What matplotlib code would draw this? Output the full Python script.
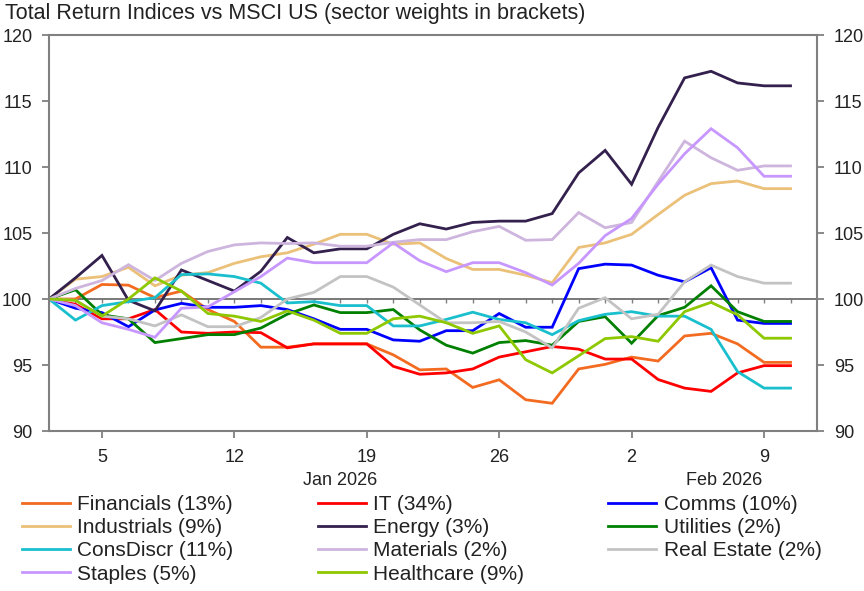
import matplotlib
matplotlib.use("Agg")
import matplotlib.pyplot as plt
import matplotlib.transforms as mtransforms
import numpy as np
import pandas as pd

plt.rcParams['font.family'] = ['Liberation Sans', 'DejaVu Sans']

# weekdays from 1 Jan to 10 Feb 2026
dates = pd.bdate_range("2026-01-01", "2026-02-10")

# total return index, rebased to 100
financials = [100, 100.0, 101.1, 101.05, 100.1, 100.6, 99.2, 98.3, 96.35, 96.35,
              96.6, 96.6, 96.6, 95.77, 94.63, 94.7, 93.3, 93.88, 92.37, 92.1,
              94.7, 95.05, 95.6, 95.3, 97.2, 97.4, 96.6, 95.2, 95.2]
it = [100, 99.6, 98.5, 98.5, 99.2, 97.5, 97.4, 97.5, 97.45, 96.3,
      96.6, 96.6, 96.6, 94.9, 94.3, 94.4, 94.7, 95.6, 96.0, 96.4,
      96.2, 95.45, 95.45, 93.9, 93.25, 93.0, 94.4, 94.95, 94.95]
comms = [100, 99.3, 98.97, 97.9, 99.17, 99.67, 99.37, 99.37, 99.5, 99.2,
         98.5, 97.7, 97.7, 96.9, 96.8, 97.6, 97.6, 98.9, 97.86, 97.86,
         102.3, 102.64, 102.57, 101.8, 101.3, 102.37, 98.4, 98.15, 98.15]
industrials = [100, 101.5, 101.7, 102.4, 101.0, 101.8, 102.0, 102.7, 103.2, 103.5,
               104.15, 104.9, 104.9, 104.15, 104.25, 103.07, 102.24, 102.24, 101.8, 101.23,
               103.9, 104.25, 104.9, 106.4, 107.86, 108.74, 108.94, 108.36, 108.36]
energy = [100, 101.6, 103.3, 99.9, 99.1, 102.2, 101.4, 100.6, 102.1, 104.66,
          103.5, 103.8, 103.8, 104.9, 105.7, 105.3, 105.8, 105.9, 105.9, 106.47,
          109.55, 111.26, 108.69, 113.0, 116.75, 117.25, 116.37, 116.15, 116.15]
utilities = [100, 100.7, 98.8, 98.5, 96.7, 97.0, 97.3, 97.3, 97.8, 98.85,
             99.55, 98.97, 98.97, 99.2, 97.66, 96.5, 95.9, 96.7, 96.85, 96.5,
             98.3, 98.66, 96.65, 98.74, 99.37, 101.0, 99.04, 98.3, 98.3]
consdiscr = [100, 98.4, 99.5, 99.8, 100.1, 101.85, 101.9, 101.7, 101.2, 99.7,
             99.8, 99.5, 99.5, 97.96, 97.96, 98.45, 99.0, 98.45, 98.2, 97.3,
             98.36, 98.84, 99.04, 98.7, 98.7, 97.7, 94.5, 93.25, 93.25]
materials = [100, 100.8, 101.4, 102.6, 101.4, 102.7, 103.6, 104.1, 104.25, 104.2,
             104.25, 104.0, 104.0, 104.3, 104.5, 104.5, 105.1, 105.5, 104.45, 104.5,
             106.55, 105.4, 105.8, 108.9, 111.96, 110.7, 109.75, 110.08, 110.08]
real_estate = [100, 99.9, 98.7, 98.5, 97.96, 98.8, 97.9, 97.9, 98.6, 100.0,
               100.5, 101.7, 101.7, 100.9, 99.55, 98.2, 98.2, 98.3, 97.5, 96.3,
               99.3, 100.1, 98.5, 98.84, 101.3, 102.57, 101.7, 101.2, 101.2]
staples = [100, 99.5, 98.2, 97.7, 97.1, 99.3, 99.4, 100.55, 101.7, 103.1,
           102.75, 102.75, 102.75, 104.25, 102.9, 102.07, 102.75, 102.75, 102.0, 101.06,
           102.7, 104.8, 106.1, 108.7, 111.0, 112.9, 111.46, 109.3, 109.3]
healthcare = [100, 99.9, 98.7, 100.0, 101.6, 100.6, 98.9, 98.7, 98.3, 99.1,
              98.4, 97.4, 97.4, 98.5, 98.7, 98.2, 97.4, 97.96, 95.4, 94.4,
              95.7, 97.0, 97.15, 96.8, 99.04, 99.75, 98.8, 97.03, 97.03]

names = ["Financials (13%)", "IT (34%)", "Comms (10%)", "Industrials (9%)", "Energy (3%)",
         "Utilities (2%)", "ConsDiscr (11%)", "Materials (2%)", "Real Estate (2%)",
         "Staples (5%)", "Healthcare (9%)"]
series = [financials, it, comms, industrials, energy, utilities, consdiscr,
          materials, real_estate, staples, healthcare]
colors = ["#F26B21", "#FF0000", "#0000FF", "#EBC078", "#33204D", "#008000",
          "#1ABFCE", "#CDB5DD", "#C3C3C3", "#C797FF", "#8EC800"]

fig = plt.figure(figsize=(8.64, 5.91), dpi=100)
W, H = 864, 591
ax = fig.add_axes([49 / W, 1 - 431 / H, (817 - 49) / W, (431 - 35) / H])

x = np.arange(len(dates))
lines = []
for vals, name, c in zip(series, names, colors):
    ln, = ax.plot(x, vals, color=c, lw=2.0, label=name, solid_joinstyle='miter')
    lines.append(ln)

ax.axhline(100, color='#6E6E6E', lw=1.3, zorder=1)

ax.set_xlim(0, 29)
ax.set_ylim(90, 120)
ax.set_yticks(range(90, 121, 5))

mondays = [i for i, d in enumerate(dates) if d.weekday() == 0]
ax.set_xticks(mondays)
ax.set_xticklabels([str(dates[i].day) for i in mondays])

for s in ax.spines.values():
    s.set_color('#808080')
    s.set_linewidth(1.5)
ax.tick_params(axis='both', colors='#808080', labelcolor='#222222', labelsize=13,
               length=5, width=1.3, direction='out')
ax.tick_params(axis='x', pad=8)
ax.tick_params(axis='y', right=True, labelright=True, pad=7)

# small ticks on the 100 line at each business day
sec = ax.secondary_xaxis(1 / 3)
sec.set_xticks(x)
sec.tick_params(axis='x', length=3, width=1, colors='#808080', labelbottom=False,
                labeltop=False, direction='out')
for s in sec.spines.values():
    s.set_visible(False)

# month labels centred on each month's span
trans = mtransforms.blended_transform_factory(ax.transData, ax.transAxes)
month_names = ["Jan 2026", "Feb 2026"]
month_start = [0, 22]
month_end = [22, 29]
for m, a, b in zip(month_names, month_start, month_end):
    ax.text((a + b) / 2, -0.125, m, transform=trans, ha='center', va='center',
            fontsize=13, color='#222222')

fig.text(5 / W, 1 - 14 / H, "Total Return Indices vs MSCI US (sector weights in brackets)",
         ha='left', va='center', fontsize=15.5, color='#222222')

# legend filled row by row (3 columns)
order = [0, 3, 6, 9, 1, 4, 7, 10, 2, 5, 8]
fig.legend([lines[k] for k in order], [names[k] for k in order],
           loc='upper left', bbox_to_anchor=(22 / W, 1 - 495 / H), ncol=3,
           frameon=False, fontsize=15, handlelength=2.3, handletextpad=0.35,
           columnspacing=4.05, labelspacing=0.2, borderpad=0, borderaxespad=0,
           labelcolor='#222222')

fig.savefig("out.png", dpi=100)
